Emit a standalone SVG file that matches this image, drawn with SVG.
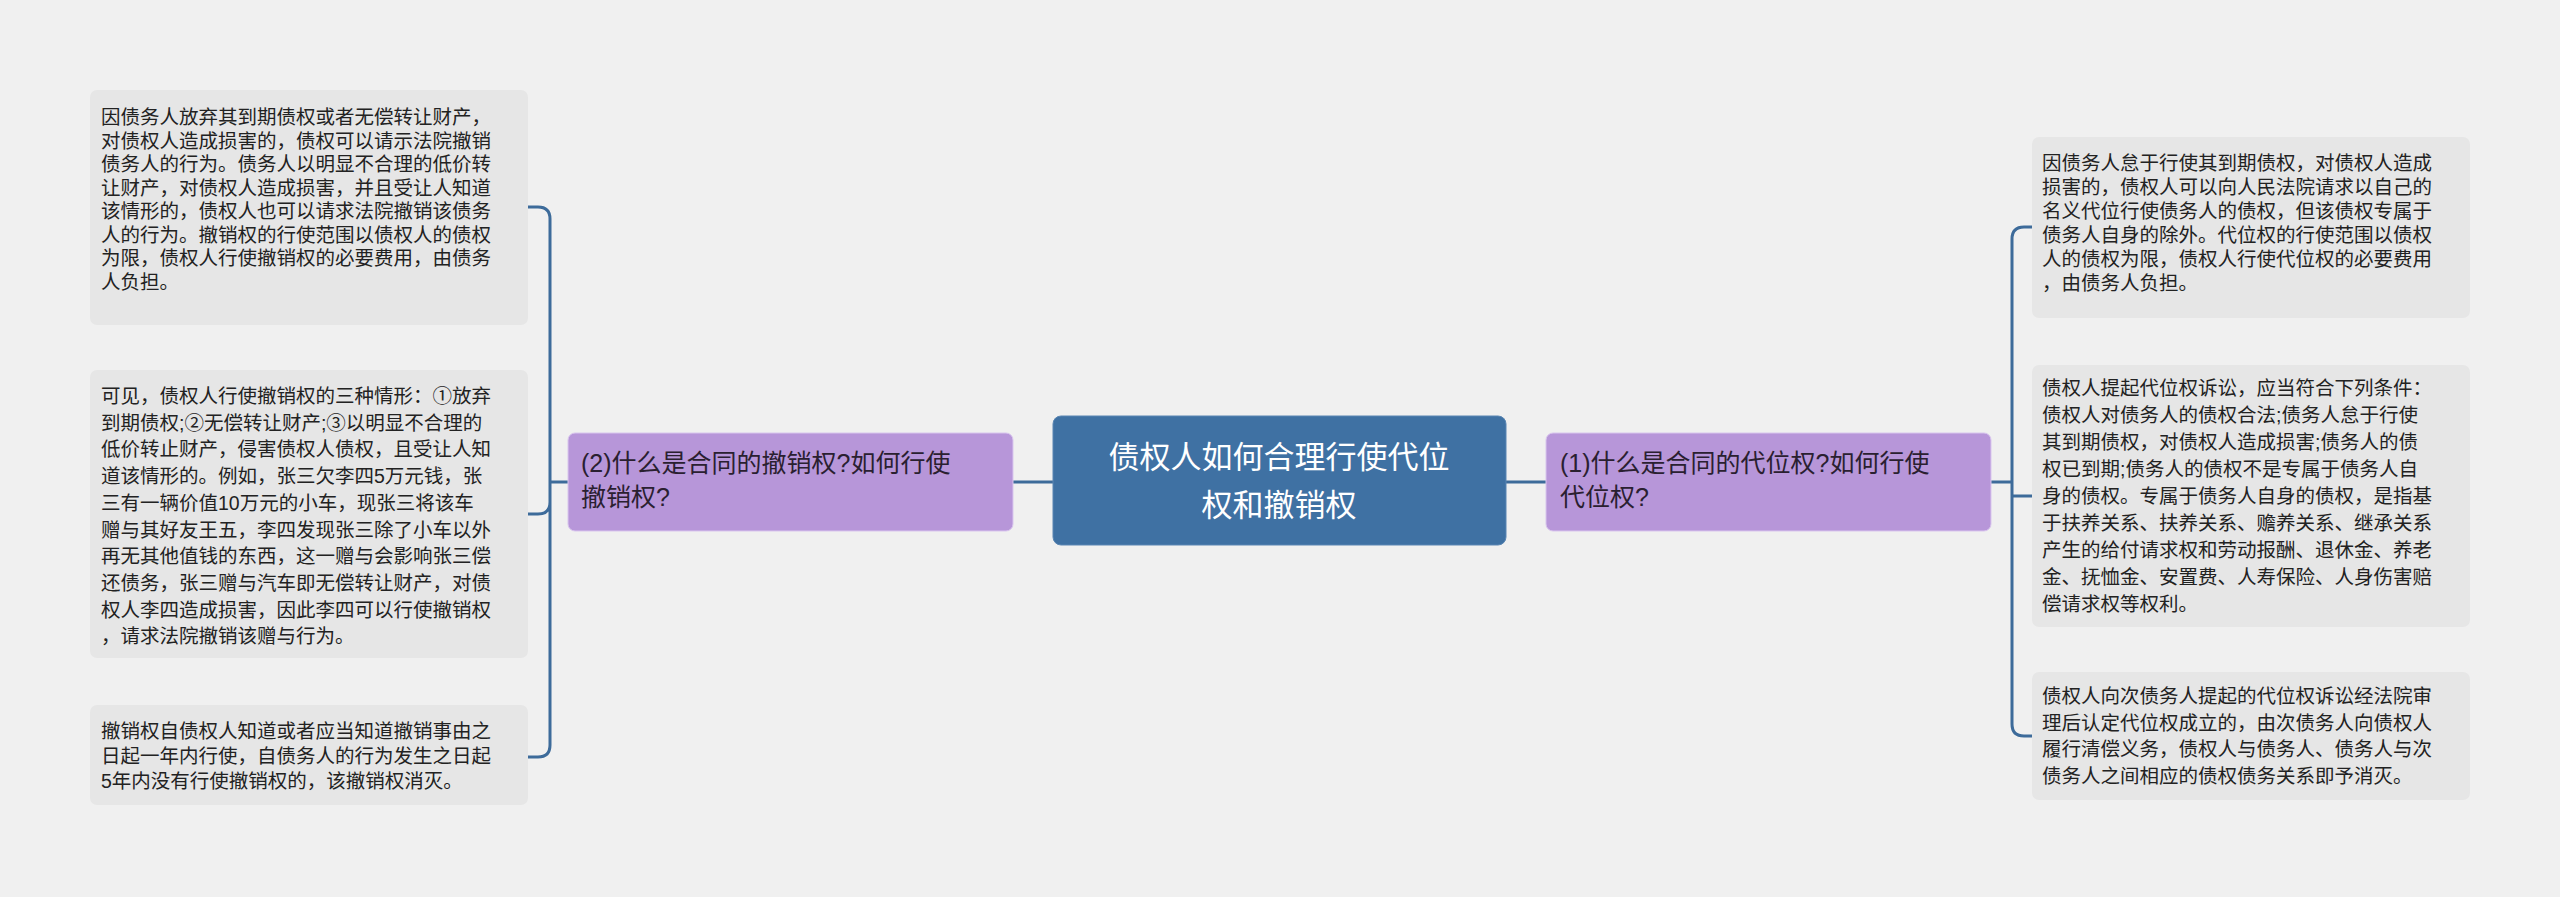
<svg xmlns="http://www.w3.org/2000/svg" width="2560" height="897" viewBox="0 0 2560 897">
<style>
text{font-family:"Liberation Sans","Noto Sans CJK SC",sans-serif}
.leaf rect{fill:#e6e6e6}
.leaf text{font-size:19.5px;fill:#222}
.br rect{fill:#b796d9;stroke:#d9c6ee;stroke-width:1}
.br text{font-size:25px;fill:#2a2030}
.c{fill:none;stroke:#3d6b9a;stroke-width:3}
</style>
<rect width="2560" height="897" fill="#f0f0f0"/>
<g id="connectors">
<path class="c" d="M1053 482H1013M1506 482H1546"/>
<path class="c" d="M568 482H550M528 207H538Q550 207 550 219V745Q550 757 538 757H528M528 514H538Q550 514 550 502"/>
<path class="c" d="M1991 482H2012M2032 227H2024Q2012 227 2012 239V724Q2012 736 2024 736H2032M2032 496H2012"/>
</g>
<g id="center">
<rect x="1053" y="416" width="453" height="129" rx="8" fill="#3f71a3" stroke="#5a86b3"/>
<text x="1279" y="468" font-size="31" fill="#fff" text-anchor="middle">债权人如何合理行使代位</text>
<text x="1279" y="516" font-size="31" fill="#fff" text-anchor="middle">权和撤销权</text>
</g>
<g id="branch-left" class="br">
<rect x="568" y="433" width="445" height="98" rx="7"/>
<text x="581" y="472">(2)什么是合同的撤销权?如何行使</text>
<text x="581" y="506">撤销权?</text>
</g>
<g id="branch-right" class="br">
<rect x="1546" y="433" width="445" height="98" rx="7"/>
<text x="1560" y="472">(1)什么是合同的代位权?如何行使</text>
<text x="1560" y="506">代位权?</text>
</g>
<g id="leaf-l1" class="leaf">
<rect x="90" y="90" width="438" height="235" rx="7"/>
<text x="101" y="124">因债务人放弃其到期债权或者无偿转让财产，</text>
<text x="101" y="147.5">对债权人造成损害的，债权可以请示法院撤销</text>
<text x="101" y="171">债务人的行为。债务人以明显不合理的低价转</text>
<text x="101" y="194.5">让财产，对债权人造成损害，并且受让人知道</text>
<text x="101" y="218">该情形的，债权人也可以请求法院撤销该债务</text>
<text x="101" y="241.5">人的行为。撤销权的行使范围以债权人的债权</text>
<text x="101" y="265">为限，债权人行使撤销权的必要费用，由债务</text>
<text x="101" y="288.5">人负担。</text>
</g>
<g id="leaf-l2" class="leaf">
<rect x="90" y="370" width="438" height="288" rx="7"/>
<text x="101" y="403">可见，债权人行使撤销权的三种情形：①放弃</text>
<text x="101" y="429.7">到期债权;②无偿转让财产;③以明显不合理的</text>
<text x="101" y="456.4">低价转止财产，侵害债权人债权，且受让人知</text>
<text x="101" y="483.1">道该情形的。例如，张三欠李四5万元钱，张</text>
<text x="101" y="509.8">三有一辆价值10万元的小车，现张三将该车</text>
<text x="101" y="536.5">赠与其好友王五，李四发现张三除了小车以外</text>
<text x="101" y="563.2">再无其他值钱的东西，这一赠与会影响张三偿</text>
<text x="101" y="589.9">还债务，张三赠与汽车即无偿转让财产，对债</text>
<text x="101" y="616.6">权人李四造成损害，因此李四可以行使撤销权</text>
<text x="101" y="643.3">，请求法院撤销该赠与行为。</text>
</g>
<g id="leaf-l3" class="leaf">
<rect x="90" y="705" width="438" height="100" rx="7"/>
<text x="101" y="738">撤销权自债权人知道或者应当知道撤销事由之</text>
<text x="101" y="763">日起一年内行使，自债务人的行为发生之日起</text>
<text x="101" y="788">5年内没有行使撤销权的，该撤销权消灭。</text>
</g>
<g id="leaf-r1" class="leaf">
<rect x="2032" y="137" width="438" height="181" rx="7"/>
<text x="2042" y="170">因债务人怠于行使其到期债权，对债权人造成</text>
<text x="2042" y="194">损害的，债权人可以向人民法院请求以自己的</text>
<text x="2042" y="218">名义代位行使债务人的债权，但该债权专属于</text>
<text x="2042" y="242">债务人自身的除外。代位权的行使范围以债权</text>
<text x="2042" y="266">人的债权为限，债权人行使代位权的必要费用</text>
<text x="2042" y="290">，由债务人负担。</text>
</g>
<g id="leaf-r2" class="leaf">
<rect x="2032" y="365" width="438" height="262" rx="7"/>
<text x="2042" y="395">债权人提起代位权诉讼，应当符合下列条件：</text>
<text x="2042" y="422">债权人对债务人的债权合法;债务人怠于行使</text>
<text x="2042" y="449">其到期债权，对债权人造成损害;债务人的债</text>
<text x="2042" y="476">权已到期;债务人的债权不是专属于债务人自</text>
<text x="2042" y="503">身的债权。专属于债务人自身的债权，是指基</text>
<text x="2042" y="530">于扶养关系、扶养关系、赡养关系、继承关系</text>
<text x="2042" y="557">产生的给付请求权和劳动报酬、退休金、养老</text>
<text x="2042" y="584">金、抚恤金、安置费、人寿保险、人身伤害赔</text>
<text x="2042" y="611">偿请求权等权利。</text>
</g>
<g id="leaf-r3" class="leaf">
<rect x="2032" y="672" width="438" height="128" rx="7"/>
<text x="2042" y="703">债权人向次债务人提起的代位权诉讼经法院审</text>
<text x="2042" y="729.7">理后认定代位权成立的，由次债务人向债权人</text>
<text x="2042" y="756.4">履行清偿义务，债权人与债务人、债务人与次</text>
<text x="2042" y="783.1">债务人之间相应的债权债务关系即予消灭。</text>
</g>
</svg>
